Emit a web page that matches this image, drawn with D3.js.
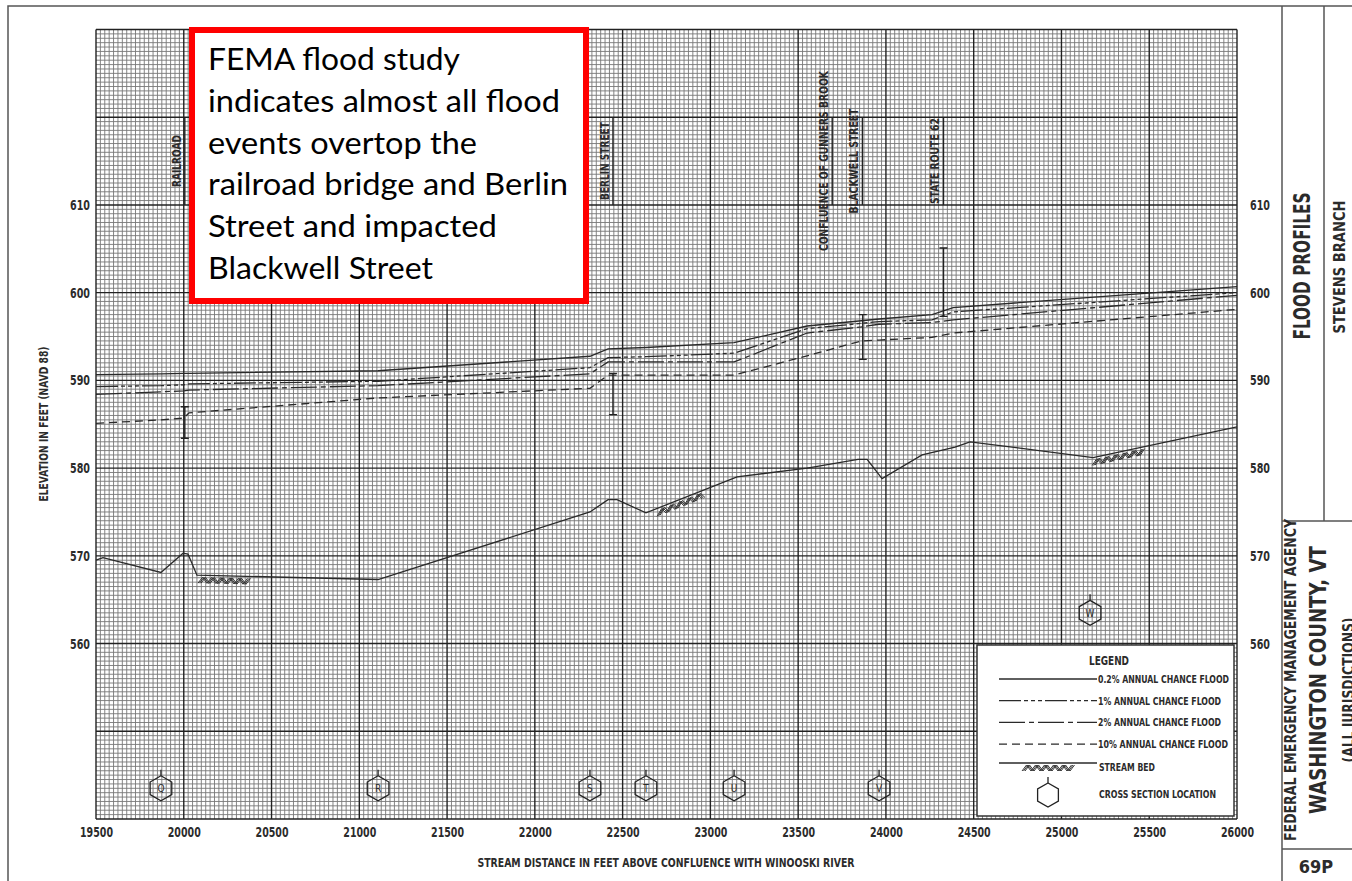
<!DOCTYPE html>
<html>
<head>
<meta charset="utf-8">
<script src="https://cdn.jsdelivr.net/npm/d3@7"></script>
<style>
body { margin: 0; background: #fff; }
text { font-family: "Liberation Sans Narrow", "DejaVu Sans Condensed", sans-serif; fill: #2b2b2b; font-weight: bold; }
</style>
</head>
<body>
<script>
// flood profile break points (stream distance, ft)
var profileStations = [19500, 19870, 20000, 20030, 21107, 22314, 22417, 22633, 23135, 23551, 23860, 23961, 24263, 24383, 26000];
// water surface elevations (ft NAVD 88)
var flood02 = [590.65, 590.75, 590.8, 590.8, 591.1, 592.75, 593.6, 593.75, 594.3, 596.2, 596.8, 597.0, 597.5, 598.3, 600.7];
var flood1 = [589.3, 589.4, 589.5, 589.6, 589.9, 591.45, 592.6, 592.7, 593.1, 595.9, 596.5, 596.7, 596.9, 597.8, 600.0];
var flood2 = [588.4, 588.7, 588.8, 588.9, 589.4, 590.75, 592.1, 592.1, 592.1, 595.4, 596.1, 596.4, 596.6, 596.9, 599.7];
var flood10 = [585.1, 585.5, 585.7, 586.3, 588.0, 589.1, 590.6, 590.6, 590.6, 592.8, 594.5, 594.6, 594.9, 595.4, 598.1];

// stream bed
var bedStations = [19500, 19540, 19870, 19996, 20024, 20075, 21107, 22314, 22417, 22468, 22633, 23152, 23551, 23841, 23893, 23978, 24206, 24394, 24479, 25180, 26000];
var bedElev = [569.5, 569.8, 568.1, 570.3, 570.2, 567.8, 567.3, 575.0, 576.4, 576.4, 574.9, 579.0, 580.0, 581.0, 581.0, 578.8, 581.5, 582.4, 583.0, 581.2, 584.7];
// stream bed symbol extents
var hatchStart = [20081, 22696, 25175];
var hatchEnd = [20366, 22970, 25466];

// cross sections
var xsLetters = ["Q", "R", "S", "T", "U", "V", "W"];
var xsStations = [19870, 21107, 22314, 22633, 23135, 23961, 25163];
var xsElev = [543.5, 543.5, 543.5, 543.5, 543.5, 543.5, 563.5];

// structures (road / low chord)
var bridgeStations = [20006, 22445, 23868, 24328];
var bridgeTop = [587.0, 590.8, 597.5, 605.1];
var bridgeBottom = [583.4, 586.1, 592.4, 597.3];

// structure labels
var labelText = ["RAILROAD", "BERLIN STREET", "CONFLUENCE OF GUNNERS BROOK", "BLACKWELL STREET", "STATE ROUTE 62"];
var labelStations = [20006, 22445, 23694, 23866, 24328];

// ticks
var xTicks = [19500, 20000, 20500, 21000, 21500, 22000, 22500, 23000, 23500, 24000, 24500, 25000, 25500, 26000];
var yTicks = [560, 570, 580, 590, 600, 610];

var legendLabels = ["0.2% ANNUAL CHANCE FLOOD", "1% ANNUAL CHANCE FLOOD", "2% ANNUAL CHANCE FLOOD", "10% ANNUAL CHANCE FLOOD"];

var noteLines = ["FEMA flood study", "indicates almost all flood", "events overtop the", "railroad bridge and Berlin", "Street and impacted", "Blackwell Street"];
var noteWidths = [252, 352, 269, 360, 289, 225];

// line styles for the four profiles
var dashes = [null, "22,3,4,3,4,3,4,3", "26,4,5,4", "8,5"];

window.onload = drawProfile();

function drawProfile() {
    var width = 1352,
        height = 881;

    var svg = d3.select("body")
        .append("svg")
        .attr("width", width)
        .attr("height", height);

    var x = d3.scaleLinear().domain([19500, 26000]).range([96, 1237]);
    var y = d3.scaleLinear().domain([540, 630]).range([819, 29.5]);

    // graph paper
    var grid = svg.append("g");
    grid.selectAll(".vminor")
        .data(d3.range(19500, 26001, 25).filter(function(d) { return d % 500 != 0; }))
        .enter().append("line")
        .attr("x1", x).attr("x2", x)
        .attr("y1", y(540)).attr("y2", y(630))
        .attr("stroke", "#777").attr("stroke-width", 0.9);
    grid.selectAll(".hminor")
        .data(d3.range(540, 630.01, 0.5).filter(function(d) { return d % 10 != 0; }))
        .enter().append("line")
        .attr("y1", y).attr("y2", y)
        .attr("x1", x(19500)).attr("x2", x(26000))
        .attr("stroke", "#777").attr("stroke-width", 0.9);
    grid.selectAll(".vmajor")
        .data(d3.range(19500, 26001, 500))
        .enter().append("line")
        .attr("x1", x).attr("x2", x)
        .attr("y1", y(540)).attr("y2", y(630))
        .attr("stroke", "#222").attr("stroke-width", 1.4);
    grid.selectAll(".hmajor")
        .data(d3.range(540, 630.01, 10))
        .enter().append("line")
        .attr("y1", y).attr("y2", y)
        .attr("x1", x(19500)).attr("x2", x(26000))
        .attr("stroke", "#222").attr("stroke-width", 1.4);

    // structure labels with their station lines
    labelText.forEach(function(t, i) {
        var lx = x(labelStations[i]);
        svg.append("line")
            .attr("x1", lx).attr("x2", lx)
            .attr("y1", y(620)).attr("y2", y(610))
            .attr("stroke", "#222").attr("stroke-width", 1.4);
        vtext(t, lx - 4, y(615), 11.5, [52, 78, 180, 105, 86][i]);
    });

    // flood profiles
    var series = [flood02, flood1, flood2, flood10];
    series.forEach(function(vals, i) {
        var line = d3.line()
            .x(function(d, j) { return x(profileStations[j]); })
            .y(function(d) { return y(d); });
        svg.append("path")
            .attr("d", line(vals))
            .attr("fill", "none")
            .attr("stroke", "#2a2a2a")
            .attr("stroke-width", 1.3)
            .attr("stroke-dasharray", dashes[i]);
    });

    // stream bed
    var bedLine = d3.line()
        .x(function(d, j) { return x(bedStations[j]); })
        .y(function(d) { return y(d); });
    svg.append("path")
        .attr("d", bedLine(bedElev))
        .attr("fill", "none")
        .attr("stroke", "#2a2a2a")
        .attr("stroke-width", 1.3);

    var bedAt = d3.scaleLinear().domain(bedStations).range(bedElev);
    hatchStart.forEach(function(s, i) {
        hatch(x(s), x(hatchEnd[i]), function(px) { return y(bedAt(x.invert(px))); });
    });

    // bridge symbols
    bridgeStations.forEach(function(s, i) {
        var bx = x(s), t = y(bridgeTop[i]), b = y(bridgeBottom[i]);
        var p = "M" + bx + "," + t + "V" + b +
            "M" + (bx - 4) + "," + t + "H" + (bx + 4) +
            "M" + (bx - 4) + "," + b + "H" + (bx + 4);
        svg.append("path").attr("d", p).attr("stroke", "#222").attr("stroke-width", 1.4).attr("fill", "none");
    });

    // cross section markers
    xsLetters.forEach(function(l, i) {
        hexagon(x(xsStations[i]), y(xsElev[i]), 12.5, l);
    });

    // legend
    var lg = svg.append("g");
    lg.append("rect")
        .attr("x", 977).attr("y", 645).attr("width", 257).attr("height", 171)
        .attr("fill", "#fff").attr("stroke", "#333").attr("stroke-width", 1.5);
    lg.append("text").attr("x", 1109).attr("y", 665).attr("text-anchor", "middle")
        .attr("font-size", 12).attr("textLength", 40).attr("lengthAdjust", "spacingAndGlyphs")
        .text("LEGEND");
    var lw = [131, 123, 123, 130];
    legendLabels.forEach(function(t, i) {
        var ly = 679 + i * 21.7;
        lg.append("line")
            .attr("x1", 999).attr("x2", 1097).attr("y1", ly).attr("y2", ly)
            .attr("stroke", "#2a2a2a").attr("stroke-width", 1.3)
            .attr("stroke-dasharray", dashes[i]);
        lg.append("text").attr("x", 1098).attr("y", ly + 4)
            .attr("font-size", 10.5).attr("textLength", lw[i]).attr("lengthAdjust", "spacingAndGlyphs")
            .text(t);
    });
    lg.append("line")
        .attr("x1", 999).attr("x2", 1097).attr("y1", 763).attr("y2", 763)
        .attr("stroke", "#2a2a2a").attr("stroke-width", 1.3);
    hatch(1022, 1075, function() { return 763; });
    lg.append("text").attr("x", 1099).attr("y", 771)
        .attr("font-size", 10.5).attr("textLength", 56).attr("lengthAdjust", "spacingAndGlyphs")
        .text("STREAM BED");
    hexagon(1048, 795, 12, "");
    lg.append("text").attr("x", 1099).attr("y", 798)
        .attr("font-size", 10.5).attr("textLength", 117).attr("lengthAdjust", "spacingAndGlyphs")
        .text("CROSS SECTION LOCATION");

    // axes (labels only, grid carries the lines)
    var xAxis = svg.append("g")
        .attr("transform", "translate(0," + y(540) + ")")
        .call(d3.axisBottom(x).tickValues(xTicks).tickSize(0).tickPadding(8).tickFormat(d3.format("d")));
    var yLeft = svg.append("g")
        .attr("transform", "translate(" + x(19500) + ",0)")
        .call(d3.axisLeft(y).tickValues(yTicks).tickSize(0).tickPadding(6));
    var yRight = svg.append("g")
        .attr("transform", "translate(" + x(26000) + ",0)")
        .call(d3.axisRight(y).tickValues(yTicks).tickSize(0).tickPadding(13));
    xAxis.selectAll("text").attr("textLength", 33).attr("lengthAdjust", "spacingAndGlyphs");
    [yLeft, yRight].forEach(function(a) {
        a.selectAll("text").attr("textLength", 20).attr("lengthAdjust", "spacingAndGlyphs");
    });
    [xAxis, yLeft, yRight].forEach(function(a) {
        a.select(".domain").remove();
        a.selectAll("text").attr("font-size", 14);
    });

    vtext("ELEVATION IN FEET (NAVD 88)", 48, 424, 11.5, 155);
    svg.append("text").attr("x", 666).attr("y", 867).attr("text-anchor", "middle")
        .attr("font-size", 11.5).attr("textLength", 377).attr("lengthAdjust", "spacingAndGlyphs")
        .text("STREAM DISTANCE IN FEET ABOVE CONFLUENCE WITH WINOOSKI RIVER");

    // annotation box
    svg.append("rect")
        .attr("x", 192).attr("y", 30).attr("width", 394).attr("height", 271)
        .attr("fill", "#fff").attr("stroke", "#ff0000").attr("stroke-width", 6);
    noteLines.forEach(function(t, i) {
        svg.append("text")
            .attr("x", 208).attr("y", 70 + i * 41.8)
            .attr("font-size", 30)
            .attr("textLength", noteWidths[i]).attr("lengthAdjust", "spacingAndGlyphs")
            .style("font-family", "Lato, 'Open Sans', sans-serif")
            .style("font-weight", "normal")
            .style("fill", "#000")
            .text(t);
    });

    // sheet frame and title block
    var frame = svg.append("g").attr("stroke", "#555").attr("stroke-width", 1.5).attr("fill", "none");
    frame.append("path").attr("d", "M8,900V6H1360");
    frame.append("path").attr("d", "M1282,6V900");
    frame.append("path").attr("d", "M1324,6V521");
    frame.append("path").attr("d", "M1282,521H1360");
    frame.append("path").attr("d", "M1282,849H1360");

    vtext("FLOOD PROFILES", 1310, 266, 23, 147);
    vtext("STEVENS BRANCH", 1345, 267, 16, 133);
    vtext("FEDERAL EMERGENCY MANAGEMENT AGENCY", 1296, 680, 16, 322);
    vtext("WASHINGTON COUNTY, VT", 1326, 680, 23, 268);
    vtext("(ALL JURISDICTIONS)", 1354, 690, 15, 145);
    svg.append("text").attr("x", 1316).attr("y", 873).attr("text-anchor", "middle")
        .attr("font-size", 18).text("69P");

    function vtext(t, cx, cy, size, len) {
        var el = svg.append("text")
            .attr("transform", "translate(" + cx + "," + cy + ") rotate(-90)")
            .attr("text-anchor", "middle")
            .attr("font-size", size)
            .text(t);
        if (len) el.attr("textLength", len).attr("lengthAdjust", "spacingAndGlyphs");
        return el;
    }

    function hexagon(cx, cy, r, letter) {
        var pts = d3.range(7).map(function(k) {
            var a = -Math.PI / 2 + k * Math.PI / 3;
            return [cx + r * Math.cos(a), cy + r * Math.sin(a)];
        });
        var g = svg.append("g");
        g.append("path").attr("d", d3.line()(pts))
            .attr("fill", "none").attr("stroke", "#222").attr("stroke-width", 1.3);
        g.append("line")
            .attr("x1", cx).attr("x2", cx).attr("y1", cy - r).attr("y2", cy - r - 6)
            .attr("stroke", "#222").attr("stroke-width", 1.3);
        if (letter) {
            g.append("text").attr("x", cx).attr("y", cy + 4).attr("text-anchor", "middle")
                .attr("font-size", 10).style("font-weight", "normal").text(letter);
        }
    }

    // zigzag stream bed symbol hanging under a base line
    function hatch(x0, x1, baseY) {
        var step = 4.5;
        var n = Math.floor((x1 - x0) / step);
        [0, 1.5, 3].forEach(function(shift) {
            var pts = d3.range(n + 1).map(function(k) {
                var px = x0 + k * step + shift;
                return [px, baseY(px) + (k % 2 ? 2 : 8)];
            });
            svg.append("path").attr("d", d3.line()(pts))
                .attr("fill", "none").attr("stroke", "#333").attr("stroke-width", 1);
        });
    }
}
</script>
</body>
</html>
